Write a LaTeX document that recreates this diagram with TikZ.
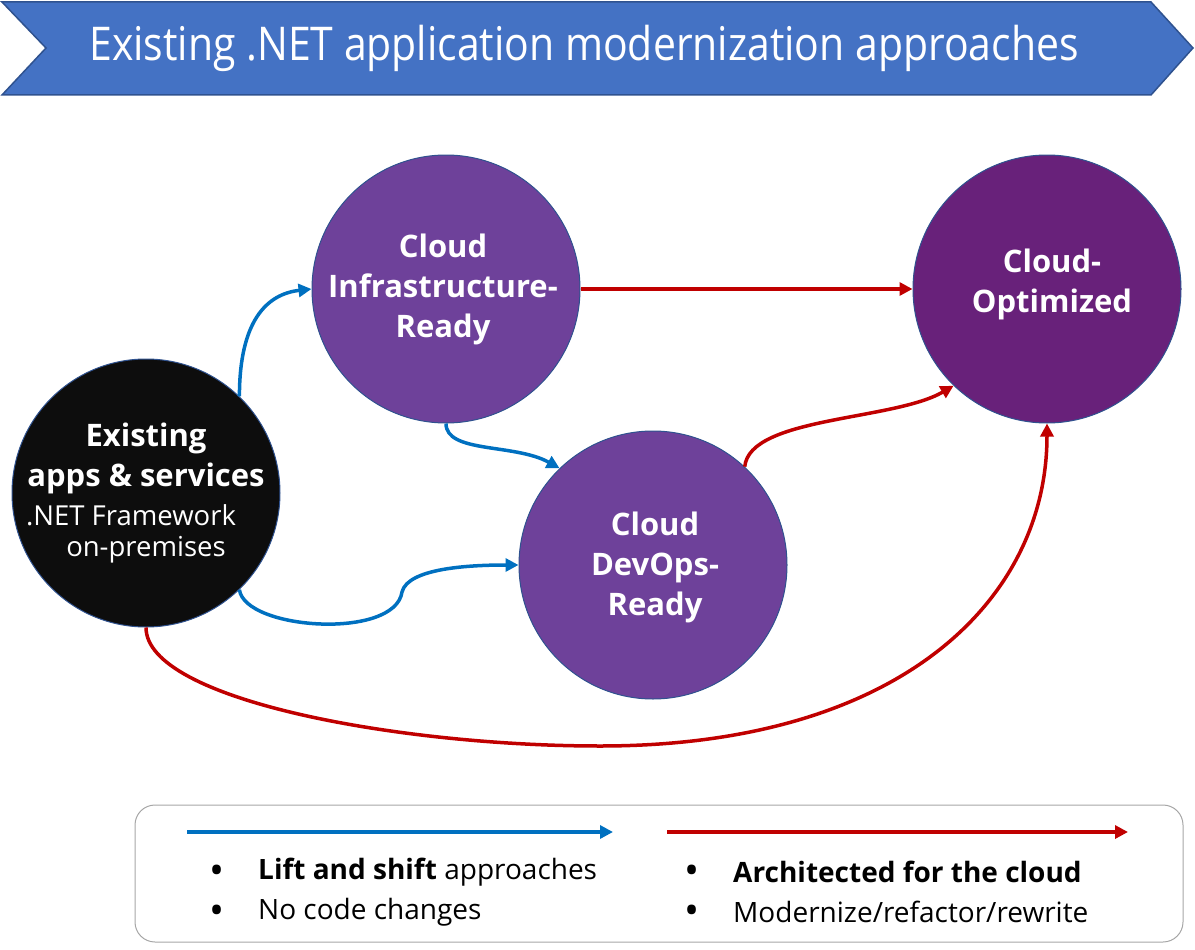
\documentclass[tikz,border=0pt]{standalone}
\usepackage{fontspec}
\setmainfont{Open Sans}
\usetikzlibrary{arrows.meta}
\definecolor{hdrfill}{HTML}{4472C4}
\definecolor{hdrline}{HTML}{2F528F}
\definecolor{purp}{HTML}{6E419A}
\definecolor{darkpurp}{HTML}{68217A}
\definecolor{blk}{HTML}{0D0D0D}
\definecolor{liftblue}{HTML}{0070C0}
\definecolor{archred}{HTML}{C00000}
\definecolor{boxgray}{HTML}{A6A6A6}
\tikzset{
  stage/.style={circle, draw=hdrline, line width=1pt, inner sep=0pt, minimum size=268pt},
  lbl/.style={text=white, align=center, font=\bfseries\fontsize{31}{40}\selectfont},
  sub/.style={text=white, font=\fontsize{27.5}{35}\selectfont, inner sep=0pt},
  lift/.style={draw=liftblue, line width=3.5pt, -{Triangle[length=13pt,width=13pt]}},
  arch/.style={draw=archred, line width=3.5pt, -{Triangle[length=13pt,width=13pt]}},
  legtxt/.style={anchor=west, font=\fontsize{28}{32}\selectfont, inner sep=0pt},
  bullet/.style={font=\fontsize{40}{40}\selectfont, inner sep=0pt},
}
\begin{document}
\begin{tikzpicture}[x=1pt,y=-1pt]
\useasboundingbox (0,0) rectangle (1195,950);
% header
\draw[fill=hdrfill, draw=hdrline, line width=1.5pt]
  (2,2) -- (1151,2) -- (1193,48) -- (1151,95) -- (2,95) -- (46,48) -- cycle;
\node[text=white, font=\fontsize{46.5}{52}\selectfont] (title) at (584,48)
  {\scalebox{0.88}[1]{Existing .NET application modernization approaches}};
% circles
\node[stage, fill=blk] (exist) at (146,493) {};
\node[stage, fill=purp] (infra) at (446,289) {};
\node[stage, fill=purp] (devops) at (653,565) {};
\node[stage, fill=darkpurp] (opt) at (1047,289) {};
% labels
\node[lbl] (existtxt) at (146,458) {Existing\\apps \& services};
\node[sub] (net) at (131,515) {.NET Framework};
\node[sub] (onprem) at (146,550) {on-premises};
\node[lbl] (infratxt) at (443,289) {Cloud\\Infrastructure-\\Ready};
\node[lbl] (devopstxt) at (655,567) {Cloud\\DevOps-\\Ready};
\node[lbl] (opttxt) at (1052,284) {Cloud-\\Optimized};
% connectors
\draw[lift] (exist.46) .. controls +(0,-75) and +(-45,5) .. (infra.west);
\draw[lift] (infra.-90) .. controls +(0,30) and +(-45,-25) .. (devops.134);
\coordinate (bend) at (402,592);
\draw[lift] (exist.-46) .. controls (245,630) and (395,640) .. (bend)
  .. controls (408,568) and (470,565) .. (devops.west);
\draw[arch] (infra.east) -- (opt.west);
\draw[arch] (devops.47) .. controls +(5,-50) and +(-60,35) .. (opt.226);
\coordinate (low) at (600,746);
\draw[arch] (exist.-90) .. controls (146,700) and (400,746) .. (low)
  .. controls (900,746) and (1047,600) .. (opt.-90);
% legend
\draw[boxgray, line width=1pt, rounded corners=20pt] (135,805) rectangle (1183,942);
\coordinate (lb1) at (187,832); \coordinate (lb2) at (613,832);
\coordinate (lr1) at (667,832); \coordinate (lr2) at (1128,832);
\draw[lift] (lb1) -- (lb2);
\draw[arch] (lr1) -- (lr2);
\node[bullet] (b1) at (217,875) {•};
\node[legtxt] (t1) at (258,872) {\textbf{Lift and shift} approaches};
\node[bullet] (b2) at (217,915) {•};
\node[legtxt] (t2) at (258,912) {No code changes};
\node[bullet] (b3) at (692,875) {•};
\node[legtxt] (t3) at (733,872) {\textbf{Architected for the cloud}};
\node[bullet] (b4) at (692,915) {•};
\node[legtxt] (t4) at (733,912) {Modernize/refactor/rewrite};
\end{tikzpicture}
\end{document}
